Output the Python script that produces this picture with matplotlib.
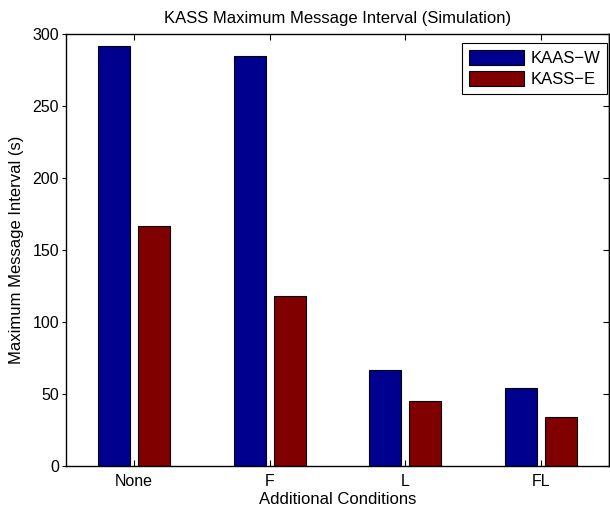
import numpy as np
import matplotlib
matplotlib.use("Agg")
import matplotlib.pyplot as plt

conditions = ["None", "F", "L", "FL"]
series_names = ["KAAS\u2212W", "KASS\u2212E"]
kaas_w = [292, 285, 67, 54]
kass_e = [167, 118, 45, 34]
y_ticks = [0, 50, 100, 150, 200, 250, 300]

plt.rcParams["font.family"] = ["Liberation Sans", "DejaVu Sans"]
plt.rcParams["font.size"] = 11.5

fig = plt.figure(figsize=(6.10, 5.12), dpi=100)
ax = fig.add_axes([66 / 610, 46 / 512, 543 / 610, 432 / 512])

x = np.arange(1, len(conditions) + 1)
offset = 0.147
width = 0.236
ax.bar(x - offset, kaas_w, width, color="#00008F", edgecolor="black",
       linewidth=0.8, label=series_names[0])
ax.bar(x + offset, kass_e, width, color="#800000", edgecolor="black",
       linewidth=0.8, label=series_names[1])

ax.set_xlim(0.5, 4.5)
ax.set_ylim(0, 300)
ax.set_xticks(x)
ax.set_xticklabels(conditions)
ax.set_yticks(y_ticks)
ax.tick_params(axis="x", direction="in", length=4, width=0.8, top=True,
               labelsize=11.5, pad=6)
ax.tick_params(axis="y", direction="out", length=3, width=0.8,
               labelsize=11.5, pad=2)

# inward ticks along the right edge
right = ax.secondary_yaxis("right")
right.set_yticks(y_ticks)
right.tick_params(direction="in", length=4, width=0.8, labelright=False)

for s in list(ax.spines.values()) + list(right.spines.values()):
    s.set_linewidth(1.0)

ax.set_title("KASS Maximum Message Interval (Simulation)", fontsize=12, pad=8)
ax.set_xlabel("Additional Conditions", fontsize=12, labelpad=2)
ax.set_ylabel("Maximum Message Interval (s)", fontsize=12, labelpad=6)

leg = ax.legend(loc="upper right", fontsize=12, fancybox=False,
                framealpha=1, edgecolor="black", borderpad=0.4,
                handlelength=3.3, handleheight=1.0, labelspacing=0.3,
                handletextpad=0.4, borderaxespad=0,
                bbox_to_anchor=(607 / 610, 1 - 43 / 512),
                bbox_transform=fig.transFigure)
leg.get_frame().set_linewidth(0.8)

fig.savefig("out.png", dpi=100)
